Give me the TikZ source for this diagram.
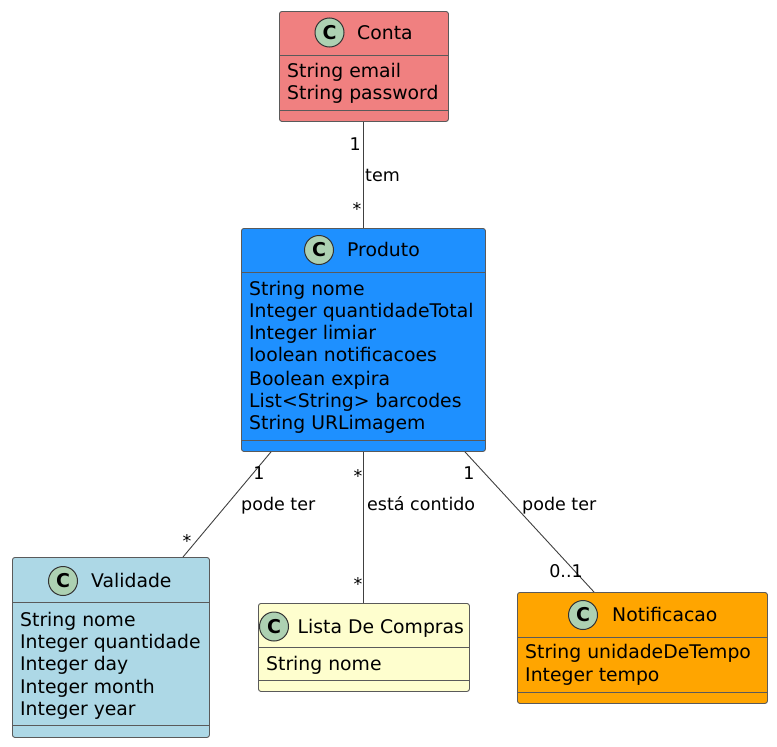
\documentclass[tikz,border=0pt]{standalone}
\usepackage{fontspec}
\setmainfont{DejaVu Sans}
\definecolor{conta}{HTML}{F08080}
\definecolor{produto}{HTML}{1E90FF}
\definecolor{validade}{HTML}{ADD8E6}
\definecolor{lista}{HTML}{FEFECE}
\definecolor{notif}{HTML}{FFA500}
\definecolor{spot}{HTML}{ADD1B2}
\definecolor{bord}{HTML}{5A5A5A}
\definecolor{edgec}{HTML}{404040}
\begin{document}
\begin{tikzpicture}[x=1pt,y=-1pt,
  box/.style={draw=bord, line width=0.9pt, rounded corners=2.5pt, rectangle, anchor=north west, inner sep=0pt},
  sepline/.style={draw=bord, line width=0.9pt},
  spotc/.style={circle, draw=black!80, fill=spot, line width=1pt, minimum size=29pt, inner sep=0pt, font=\fontsize{19}{19}\selectfont\bfseries},
  ttl/.style={anchor=base west, inner sep=0pt, font=\fontsize{18.8}{22}\selectfont},
  attr/.style={anchor=base west, inner sep=0pt, font=\fontsize{18.8}{22}\selectfont},
  lbl/.style={inner sep=0pt, font=\fontsize{17.5}{20}\selectfont},
  conn/.style={draw=edgec, line width=0.9pt}]
\useasboundingbox (0,0) rectangle (777,747);

% ---------- Conta ----------
\node[box, fill=conta, minimum width=169pt, minimum height=110pt] (conta) at (279,11) {};
\draw[sepline] (279,55.5) -- (448,55.5);
\draw[sepline] (279,110.5) -- (448,110.5);
\node[spotc] (cspot) at (329.5,32.5) {C};
\node[ttl] (ctitle) at (357,39.5) {Conta};
\node[attr] (ca1) at (287,77.5) {String email};
\node[attr] (ca2) at (287,99.5) {String password};

% ---------- Produto ----------
\node[box, fill=produto, minimum width=244pt, minimum height=223pt] (produto) at (241,228) {};
\draw[sepline] (241,272.5) -- (485,272.5);
\draw[sepline] (241,440) -- (485,440);
\node[spotc] (pspot) at (319,250) {C};
\node[ttl] (ptitle) at (347,256.5) {Produto};
\node[attr] (pa1) at (249,295) {String nome};
\node[attr] (pa2) at (249,317) {Integer quantidadeTotal};
\node[attr] (pa3) at (249,339.5) {Integer limiar};
\node[attr] (pa4) at (249,361) {Ioolean notificacoes};
\node[attr] (pa5) at (249,385) {Boolean expira};
\node[attr] (pa6) at (249,407) {List<String> barcodes};
\node[attr] (pa7) at (249,429) {String URLimagem};

% ---------- Validade ----------
\node[box, fill=validade, minimum width=197pt, minimum height=180pt] (validade) at (12,557) {};
\draw[sepline] (12,602.5) -- (209,602.5);
\draw[sepline] (12,725) -- (209,725);
\node[spotc] (vspot) at (63,581) {C};
\node[ttl] (vtitle) at (91,587.5) {Validade};
\node[attr] (va1) at (20,626) {String nome};
\node[attr] (va2) at (20,648) {Integer quantidade};
\node[attr] (va3) at (20,670) {Integer day};
\node[attr] (va4) at (20,693) {Integer month};
\node[attr] (va5) at (20,715) {Integer year};

% ---------- Lista De Compras ----------
\node[box, fill=lista, minimum width=211pt, minimum height=88pt] (lista) at (258,603) {};
\draw[sepline] (258,647.5) -- (469,647.5);
\draw[sepline] (258,680) -- (469,680);
\node[spotc] (lspot) at (274,626.5) {C};
\node[ttl] (ltitle) at (297.5,633) {Lista De Compras};
\node[attr] (la1) at (266,670) {String nome};

% ---------- Notificacao ----------
\node[box, fill=notif, minimum width=250pt, minimum height=111pt] (notif) at (517,592) {};
\draw[sepline] (517,637) -- (767,637);
\draw[sepline] (517,692) -- (767,692);
\node[spotc] (nspot) at (583,615) {C};
\node[ttl] (ntitle) at (612,621.5) {Notificacao};
\node[attr] (na1) at (525,658) {String unidadeDeTempo};
\node[attr] (na2) at (525,681) {Integer tempo};

% ---------- connectors ----------
\draw[conn] ([xshift=-1pt]conta.south) -- ([xshift=-0.5pt]produto.north);
\node[lbl, anchor=base east] (l1) at (361,150) {1};
\node[lbl, anchor=base west] (l2) at (365,181.5) {tem};
\node[lbl, anchor=base] (l3) at (357,215.5) {*};

\draw[conn] ([xshift=30pt]produto.south west) -- ([xshift=171pt]validade.north west);
\node[lbl, anchor=base] (l4) at (259,479.5) {1};
\node[lbl, anchor=base west] (l5) at (241,510.5) {pode ter};
\node[lbl, anchor=base] (l6) at (187,547) {*};

\draw[conn] ([xshift=-0.5pt]produto.south) -- ([xshift=-1pt]lista.north);
\node[lbl, anchor=base] (l7) at (358,482) {*};
\node[lbl, anchor=base west] (l8) at (367,510.5) {está contido};
\node[lbl, anchor=base] (l9) at (358,590.5) {*};

\draw[conn] ([xshift=224pt]produto.south west) -- ([xshift=77pt]notif.north west);
\node[lbl, anchor=base] (l10) at (469,479) {1};
\node[lbl, anchor=base west] (l11) at (522,510.5) {pode ter};
\node[lbl, anchor=base] (l12) at (566,577.5) {0..1};
\end{tikzpicture}
\end{document}
